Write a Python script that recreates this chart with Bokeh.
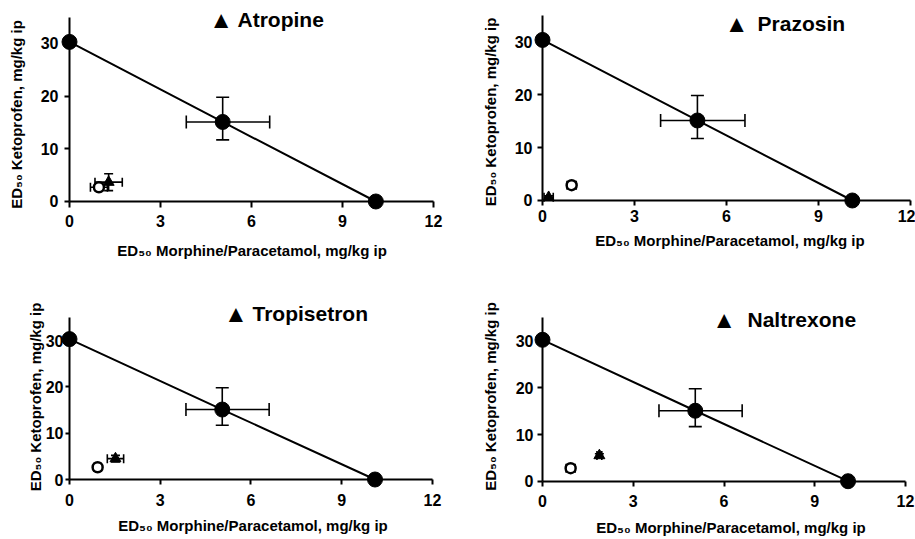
import math
from bokeh.plotting import figure
from bokeh.layouts import column, row
from bokeh.models import Label, FixedTicker
from bokeh.embed import file_html
from bokeh.resources import INLINE

# ---------------- data ----------------
antagonists = ["Atropine", "Prazosin", "Tropisetron", "Naltrexone"]

x_ticks = [0, 3, 6, 9, 12]
y_ticks = [0, 10, 20, 30]

# theoretical additive line (isobole) and theoretical mixture point
theo_x = [0.0, 5.05, 10.1]
theo_y = [30.3, 15.1, 0.0]
theo_mid_x_lo = 3.85
theo_mid_x_hi = 6.6
theo_mid_y_lo = 11.7
theo_mid_y_hi = 19.8

# experimental combination (open circle), per panel
exp_x = [0.97, 0.95, 0.93, 0.93]
exp_y = [2.7, 2.9, 2.65, 2.8]
exp_xerr = [0.28, 0.15, 0.12, 0.15]
exp_yerr = [0.6, 0.3, 0.3, 0.3]

# combination + antagonist (filled triangle), per panel
ant_x = [1.29, 0.2, 1.52, 1.88]
ant_y = [3.67, 0.6, 4.5, 5.5]
ant_xerr = [0.45, 0.15, 0.27, 0.08]
ant_yerr = [1.6, 0.3, 0.7, 0.4]

x_label = "ED\u2085\u2080 Morphine/Paracetamol, mg/kg ip"
y_label = "ED\u2085\u2080 Ketoprofen, mg/kg ip"

FONT = "Liberation Sans"

# ---------------- layout geometry (frame fills each figure) ----------------
geoms = [
    dict(w=458, h=270, xr=(-2.275, 12.825), yr=(-13.1, 38.16),
         xt=6, xs=8, yt=5, ys=6,
         tri=(4.995, 34.46), name=(5.54, 34.46), xl=(6.02, -9.21), yl=(-1.747, 16.52)),
    dict(w=457, h=270, xr=(-2.739, 12.16), yr=(-13.21, 37.74),
         xt=5, xs=5, yt=5, ys=5,
         tri=(6.325, 33.49), name=(7.01, 33.49), xl=(6.11, -7.55), yl=(-1.695, 16.7)),
    dict(w=458, h=269, xr=(-2.281, 12.86), yr=(-12.95, 45.11),
         xt=5, xs=9, yt=4, ys=2,
         tri=(5.504, 35.83), name=(6.05, 35.83), xl=(6.066, -9.93), yl=(-1.124, 17.81)),
    dict(w=457, h=269, xr=(-2.777, 12.33), yr=(-12.49, 45.15),
         xt=5, xs=9, yt=5, ys=4,
         tri=(6.0, 34.65), name=(6.777, 34.65), xl=(6.231, -9.92), yl=(-1.719, 18.15)),
]


def error_bars(p, x, y, xlo, xhi, ylo, yhi, cap, lw):
    p.segment(x0=[xlo], y0=[y], x1=[xhi], y1=[y], line_color="black", line_width=lw)
    p.segment(x0=[x], y0=[ylo], x1=[x], y1=[yhi], line_color="black", line_width=lw)
    p.scatter(x=[x, x], y=[ylo, yhi], marker="dash", size=cap,
              line_color="black", line_width=lw)
    p.scatter(x=[xlo, xhi], y=[y, y], marker="dash", size=cap, angle=math.pi / 2,
              line_color="black", line_width=lw)


def make_panel(i):
    g = geoms[i]
    p = figure(width=g["w"], height=g["h"], x_range=g["xr"], y_range=g["yr"],
               output_backend="svg", toolbar_location=None, title=None,
               min_border_left=0, min_border_right=0,
               min_border_top=0, min_border_bottom=0)
    p.grid.visible = False
    p.outline_line_color = None
    p.background_fill_color = "white"
    p.border_fill_color = "white"

    for ax, ticks, bnd, tout, stand in ((p.xaxis, x_ticks, (0, 12), g["xt"], g["xs"]),
                                        (p.yaxis, y_ticks, (0, 35), g["yt"], g["ys"])):
        ax.fixed_location = 0
        ax.bounds = bnd
        ax.ticker = FixedTicker(ticks=ticks)
        ax.minor_tick_line_color = None
        ax.major_tick_in = 0
        ax.major_tick_out = tout
        ax.major_label_standoff = stand
        ax.axis_line_width = 2
        ax.major_tick_line_width = 2
        ax.axis_line_color = "black"
        ax.major_tick_line_color = "black"
        ax.major_label_text_font = FONT
        ax.major_label_text_font_style = "bold"
        ax.major_label_text_font_size = "16px"
        ax.major_label_text_color = "black"

    # theoretical isobole
    p.line(x=theo_x, y=theo_y, line_color="black", line_width=2)
    error_bars(p, theo_x[1], theo_y[1], theo_mid_x_lo, theo_mid_x_hi,
               theo_mid_y_lo, theo_mid_y_hi, cap=13, lw=1.6)
    error_bars(p, exp_x[i], exp_y[i], exp_x[i] - exp_xerr[i], exp_x[i] + exp_xerr[i],
               exp_y[i] - exp_yerr[i], exp_y[i] + exp_yerr[i], cap=9, lw=1.6)
    error_bars(p, ant_x[i], ant_y[i], ant_x[i] - ant_xerr[i], ant_x[i] + ant_xerr[i],
               ant_y[i] - ant_yerr[i], ant_y[i] + ant_yerr[i], cap=9, lw=1.6)

    p.scatter(x=theo_x, y=theo_y, marker="circle", size=15,
              fill_color="black", line_color="black")
    p.scatter(x=[exp_x[i]], y=[exp_y[i]], marker="circle", size=10,
              fill_color="white", line_color="black", line_width=2.5)
    p.scatter(x=[ant_x[i]], y=[ant_y[i]], marker="triangle", size=11,
              fill_color="black", line_color="black")

    # key / title
    p.add_layout(Label(x=g["tri"][0], y=g["tri"][1], text="\u25B2", text_align="center",
                       text_baseline="middle", text_font=FONT, text_font_size="24px",
                       text_color="black"))
    p.add_layout(Label(x=g["name"][0], y=g["name"][1], text=antagonists[i],
                       text_align="left", text_baseline="middle", text_font=FONT,
                       text_font_size="21px", text_font_style="bold", text_color="black"))
    # axis titles
    p.add_layout(Label(x=g["xl"][0], y=g["xl"][1], text=x_label, text_align="center",
                       text_baseline="middle", text_font=FONT, text_font_size="15px",
                       text_font_style="bold", text_color="black"))
    p.add_layout(Label(x=g["yl"][0], y=g["yl"][1], text=y_label, angle=math.pi / 2,
                       text_align="center", text_baseline="middle", text_font=FONT,
                       text_font_size="15px", text_font_style="bold", text_color="black"))
    return p


panels = [make_panel(i) for i in range(4)]
layout = column(row(panels[0], panels[1]), row(panels[2], panels[3]))

open("out.html", "w").write(file_html(layout, INLINE))
